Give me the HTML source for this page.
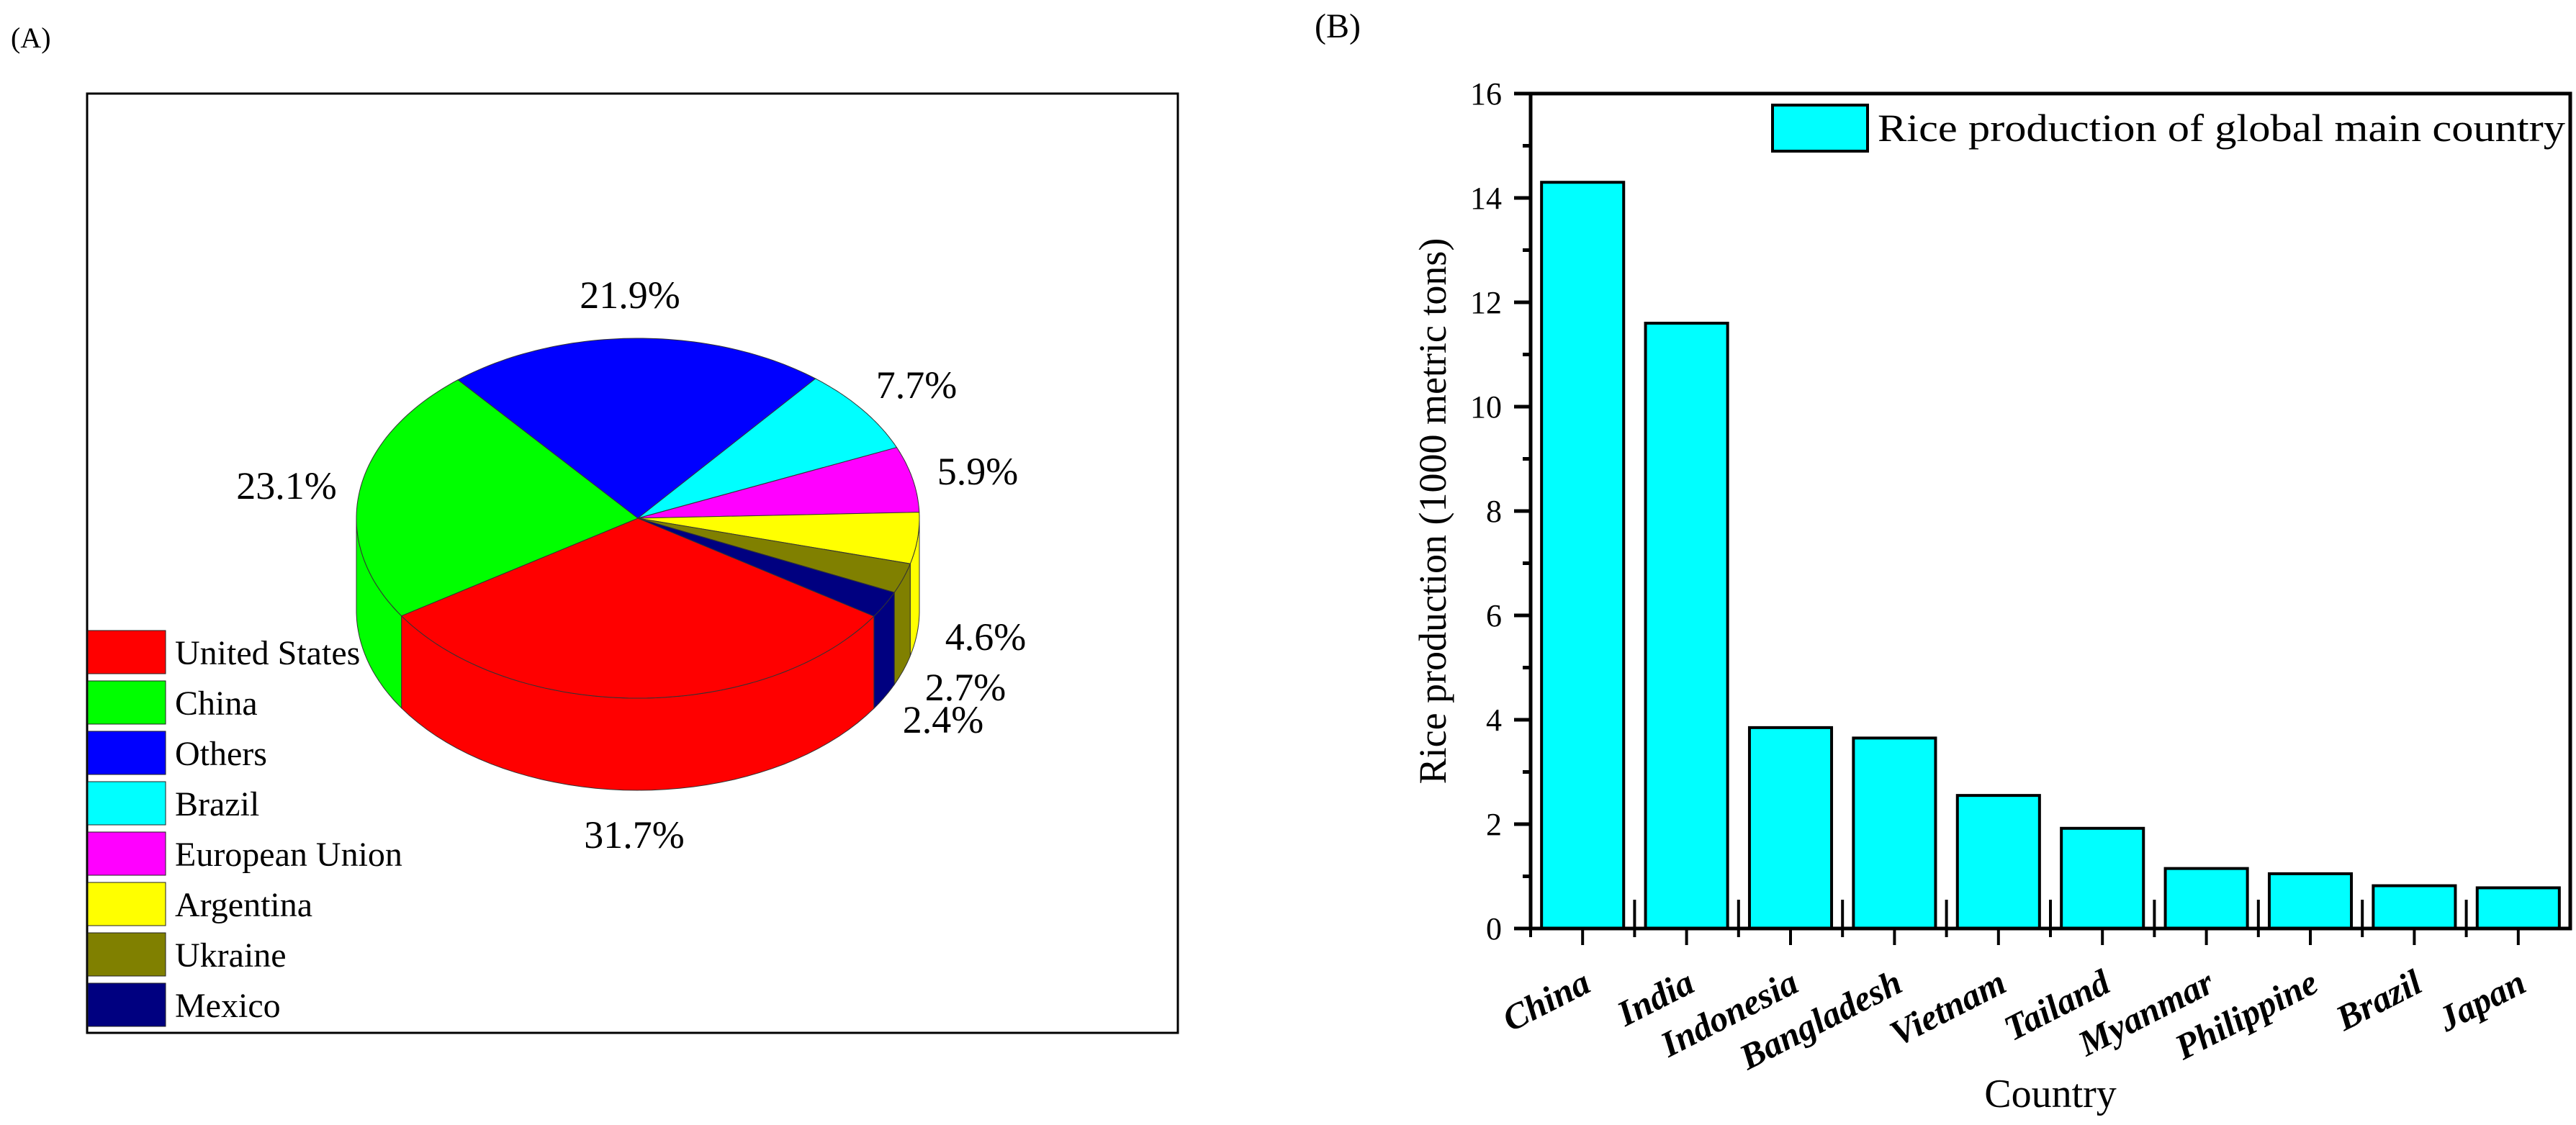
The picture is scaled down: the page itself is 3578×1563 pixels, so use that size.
<!DOCTYPE html>
<html><head><meta charset="utf-8"><style>
html,body{margin:0;padding:0;background:#fff;}
svg{display:block;font-family:"Liberation Serif","Times New Roman",serif;}
</style></head><body>
<svg id="fig" width="3578" height="1563" viewBox="0 0 3578 1563" xmlns="http://www.w3.org/2000/svg">
<rect x="0" y="0" width="3578" height="1563" fill="#fff"/>
<text x="15" y="66" font-size="40">(A)</text>
<rect x="121" y="130" width="1515" height="1305" fill="none" stroke="#000" stroke-width="3"/>
<g id="pie"></g>
<g id="pieLabels"></g>
<g id="pieLegend"></g>

<text x="1826" y="52" font-size="48">(B)</text>
<g id="bar"></g>
</svg>
<script>
// ---- Pie data ----
const pieLabels = ["United States","China","Others","Brazil","European Union","Argentina","Ukraine","Mexico"];
const pieValues = [31.7,23.1,21.9,7.7,5.9,4.6,2.7,2.4];
const pieText = ["31.7%","23.1%","21.9%","7.7%","5.9%","4.6%","2.7%","2.4%"];
// ---- Bar data ----
const barCategories = ["China","India","Indonesia","Bangladesh","Vietnam","Tailand","Myanmar","Philippine","Brazil","Japan"];
const barValues = [14.3,11.6,3.85,3.65,2.55,1.92,1.15,1.05,0.82,0.78];
const yTicks = [0,2,4,6,8,10,12,14,16];

const NS="http://www.w3.org/2000/svg";
function mk(tag,attrs,parent){const e=document.createElementNS(NS,tag);for(const k in attrs)e.setAttribute(k,attrs[k]);parent.appendChild(e);return e;}

// Pie
const pieColors=["#ff0000","#00ff00","#0000ff","#00ffff","#ff00ff","#ffff00","#808000","#000080"];
const cx=886,cy=720,rx=391,ry=250,depth=128,start=33;
const pieG=document.getElementById('pie');
const total=pieValues.reduce((a,b)=>a+b,0);
function pt(a,dy){const r=a*Math.PI/180;return [cx+rx*Math.cos(r),cy+dy+ry*Math.sin(r)];}
let ang=start;const slices=[];
pieValues.forEach((v,i)=>{const a1=ang,a2=ang+v/total*360;slices.push([a1,a2]);ang=a2;});
slices.forEach((s,i)=>{
  for(const off of [0,360]){
    let a1=Math.max(s[0],0+off),a2=Math.min(s[1],180+off);
    if(a2<=a1) continue;
    let d="";const N=40;
    for(let k=0;k<=N;k++){const p=pt(a1+(a2-a1)*k/N,0);d+=(k?"L":"M")+p[0].toFixed(1)+","+p[1].toFixed(1);}
    for(let k=N;k>=0;k--){const p=pt(a1+(a2-a1)*k/N,depth);d+="L"+p[0].toFixed(1)+","+p[1].toFixed(1);}
    d+="Z";
    const e=mk('path',{d:d,fill:pieColors[i],stroke:"#333","stroke-width":1},pieG);
    
    
  }
});
slices.forEach((s,i)=>{
  let d="M"+cx+","+cy;const N=60;
  for(let k=0;k<=N;k++){const p=pt(s[0]+(s[1]-s[0])*k/N,0);d+="L"+p[0].toFixed(1)+","+p[1].toFixed(1);}
  d+="Z";
  const e=mk('path',{d:d,fill:pieColors[i],stroke:"#333","stroke-width":1},pieG);
  
  
});
const lblPos=[[881,1178],[398,693],[875,428],[1273,553],[1358,673],[1369,903],[1341,973],[1310,1018]];
const lg=document.getElementById('pieLabels');
pieText.forEach((t,i)=>{const e=mk('text',{x:lblPos[i][0],y:lblPos[i][1],"font-size":54,"text-anchor":"middle"},lg);e.textContent=t;
  
  });
const leg=document.getElementById('pieLegend');
pieLabels.forEach((t,i)=>{
  const y=876+i*70;
  const r=mk('rect',{x:122,y:y,width:108,height:60,fill:pieColors[i],stroke:"#222","stroke-width":1},leg);
  
  
  const e=mk('text',{x:243,y:y+47,"font-size":48},leg);e.textContent=t;
  
  
});

// Bar chart
const bg=document.getElementById('bar');
const L=2126,R=3570,T=130,B=1290,ymax=16;
const yS=v=>B-(v/ymax)*(B-T);
const step=(R-L)/barCategories.length;
const xC=i=>L+step*(i+0.5);
barValues.forEach((v,i)=>{
  const w=step*0.79;
  const r=mk('rect',{x:xC(i)-w/2,y:yS(v),width:w,height:B-yS(v),fill:"#00ffff",stroke:"#000","stroke-width":4},bg);
  
  
  const ax=xC(i)+14, ay=1376;
  const t=mk('text',{x:ax,y:ay,"font-size":50,"font-weight":"bold","font-style":"italic","text-anchor":"end",transform:"rotate(-27 "+ax+" "+ay+")"},bg);
  t.textContent=barCategories[i];
  
  
});
const frame=mk('rect',{x:L,y:T,width:R-L,height:B-T,fill:"none",stroke:"#000","stroke-width":5},bg);


yTicks.forEach(v=>{
  const l=mk('line',{x1:L-23,x2:L,y1:yS(v),y2:yS(v),stroke:"#000","stroke-width":5},bg);
  
  
  const t=mk('text',{x:L-40,y:yS(v)+15,"font-size":44,"text-anchor":"end"},bg);t.textContent=v;
  
  
  if(v<ymax){const m=mk('line',{x1:L-11,x2:L,y1:yS(v+1),y2:yS(v+1),stroke:"#000","stroke-width":5},bg);
    
    }
});
barCategories.forEach((c,i)=>{
  const l=mk('line',{x1:xC(i),x2:xC(i),y1:B,y2:B+23,stroke:"#000","stroke-width":4},bg);
  
  
  const bx=L+step*i;
  const m=mk('line',{x1:bx,x2:bx,y1:B-40,y2:B+12,stroke:"#000","stroke-width":4},bg);
  
  
});
const yl=mk('text',{x:2008,y:(T+B)/2,"font-size":54,"text-anchor":"middle",transform:"rotate(-90 2008 "+((T+B)/2)+")"},bg);
yl.textContent="Rice production (1000 metric tons)";


const xl=mk('text',{x:2848,y:1538,"font-size":56,"text-anchor":"middle"},bg);
xl.textContent="Country";


const ls=mk('rect',{x:2462,y:146,width:132,height:64,fill:"#00ffff",stroke:"#000","stroke-width":4},bg);


const lt=mk('text',{x:2608,y:196,"font-size":54,textLength:955,lengthAdjust:"spacingAndGlyphs"},bg);
lt.textContent="Rice production of global main country";


</script>
</body></html>
